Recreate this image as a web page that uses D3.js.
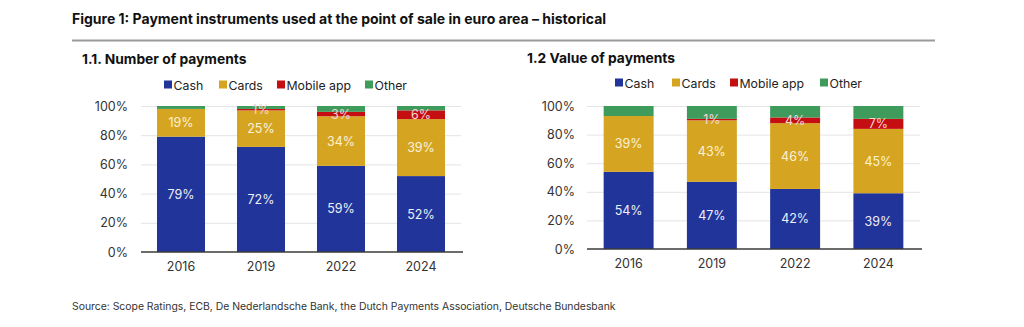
<!DOCTYPE html>
<html>
<head>
<meta charset="utf-8">
<script src="https://cdn.jsdelivr.net/npm/d3@7"></script>
<style>
  html, body { margin: 0; padding: 0; background: #fff; }
  svg { display: block; font-family: Inter, "Noto Sans", sans-serif; }
</style>
</head>
<body>
<svg id="chart" width="1024" height="327"></svg>
<script>
const years = ["2016", "2019", "2022", "2024"];
const seriesNames = ["Cash", "Cards", "Mobile app", "Other"];
const yTicks = [0, 20, 40, 60, 80, 100];

// 1.1 Number of payments (%)
const numCash   = [79, 72, 59, 52];
const numCards  = [19, 25, 34, 39];
const numMobile = [0, 1, 3, 6];
const numOther  = [2, 2, 4, 3];

// 1.2 Value of payments (%)
const valCash   = [54, 47, 42, 39];
const valCards  = [39, 43, 46, 45];
const valMobile = [0, 1, 4, 7];
const valOther  = [7, 9, 8, 9];

const colors = ["#21349a", "#d5a521", "#c40e12", "#3f9b5c"];
const labelColors = ["#eef0f8", "#fbf1d6", "#f8d6d6", null];

const svg = d3.select("#chart");

svg.append("text").attr("x", 72).attr("y", 24)
  .attr("font-size", 14).attr("font-weight", 700).attr("fill", "#111")
  .text("Figure 1: Payment instruments used at the point of sale in euro area \u2013 historical");
svg.append("line").attr("x1", 72).attr("x2", 935).attr("y1", 40.5).attr("y2", 40.5)
  .attr("stroke", "#9a9a9a").attr("stroke-width", 2);

svg.append("text").attr("x", 72).attr("y", 310)
  .attr("font-size", 10.4).attr("fill", "#333")
  .text("Source: Scope Ratings, ECB, De Nederlandsche Bank, the Dutch Payments Association, Deutsche Bundesbank");

function panel(opt) {
  const g = svg.append("g");
  g.append("text").attr("x", opt.titleX).attr("y", opt.titleY)
    .attr("font-size", 13.8).attr("font-weight", 700).attr("fill", "#111").text(opt.title);

  // legend
  opt.legendX.forEach((lx, i) => {
    g.append("rect").attr("x", lx).attr("y", opt.legendY - 4.5).attr("width", 8).attr("height", 8)
      .attr("fill", colors[i]);
    g.append("text").attr("x", lx + 9.5).attr("y", opt.legendY + 4.5)
      .attr("font-size", 12.3).attr("fill", "#222").text(seriesNames[i]);
  });

  const x = d3.scaleBand().domain(years).range([opt.x0, opt.x1]).paddingInner(0.4).paddingOuter(0.2);
  const y = d3.scaleLinear().domain([0, 100]).range([opt.y0, opt.y1]);

  // gridlines
  g.selectAll(".grid").data(yTicks.filter(t => t > 0)).enter().append("line")
    .attr("x1", opt.x0).attr("x2", opt.x1)
    .attr("y1", d => y(d) + 0.5).attr("y2", d => y(d) + 0.5)
    .attr("stroke", "#e4e4e4").attr("stroke-width", 1);

  // y axis labels
  const yAxis = d3.axisLeft(y).tickValues(yTicks).tickFormat(d => d + "%").tickSize(0).tickPadding(0);
  const ya = g.append("g").attr("transform", `translate(${opt.labelRight},0)`).call(yAxis);
  ya.select(".domain").remove();
  ya.selectAll("text").attr("font-size", 12.5).attr("fill", "#333").attr("font-family", "Inter, sans-serif");

  const data = years.map((yr, i) => ({ year: yr, vals: opt.series.map(s => s[i]) }));
  const stack = d3.stack().keys([0, 1, 2, 3]).value((d, k) => d.vals[k]);
  const stacked = stack(data);

  stacked.forEach((layer, k) => {
    g.append("g").selectAll("rect").data(layer).enter().append("rect")
      .attr("x", d => x(d.data.year))
      .attr("width", x.bandwidth())
      .attr("y", d => y(d[1]))
      .attr("height", d => Math.max(0, y(d[0]) - y(d[1])))
      .attr("fill", colors[k]);
  });
  stacked.forEach((layer, k) => {
    if (!labelColors[k]) return;
    g.append("g").selectAll("text").data(layer.filter(d => d[1] - d[0] > 0)).enter().append("text")
      .attr("x", d => x(d.data.year) + x.bandwidth() / 2)
      .attr("y", d => y((d[0] + d[1]) / 2))
      .attr("dy", "0.36em")
      .attr("text-anchor", "middle")
      .attr("font-size", 12.5).attr("fill", labelColors[k])
      .text(d => Math.round(d[1] - d[0]) + "%");
  });

  // baseline
  g.append("line").attr("x1", opt.x0).attr("x2", opt.x1 + 2)
    .attr("y1", opt.y0).attr("y2", opt.y0)
    .attr("stroke", "#3a3a3a").attr("stroke-width", 1.5);

  // x axis
  const xAxis = d3.axisBottom(x).tickSize(0).tickPadding(0);
  const xa = g.append("g").attr("transform", `translate(0,${opt.y0 + 10})`).call(xAxis);
  xa.select(".domain").remove();
  xa.selectAll("text").attr("font-size", 12.5).attr("fill", "#333").attr("font-family", "Inter, sans-serif");
}

panel({
  title: "1.1. Number of payments", titleX: 82, titleY: 64,
  legendX: [164, 219, 277, 365], legendY: 85,
  x0: 141, x1: 461, y0: 252, y1: 106, labelRight: 128,
  series: [numCash, numCards, numMobile, numOther]
});
panel({
  title: "1.2 Value of payments", titleX: 527, titleY: 63,
  legendX: [615, 672, 730, 820], legendY: 83,
  x0: 587, x1: 920, y0: 249, y1: 106, labelRight: 575,
  series: [valCash, valCards, valMobile, valOther]
});
</script>
</body>
</html>
